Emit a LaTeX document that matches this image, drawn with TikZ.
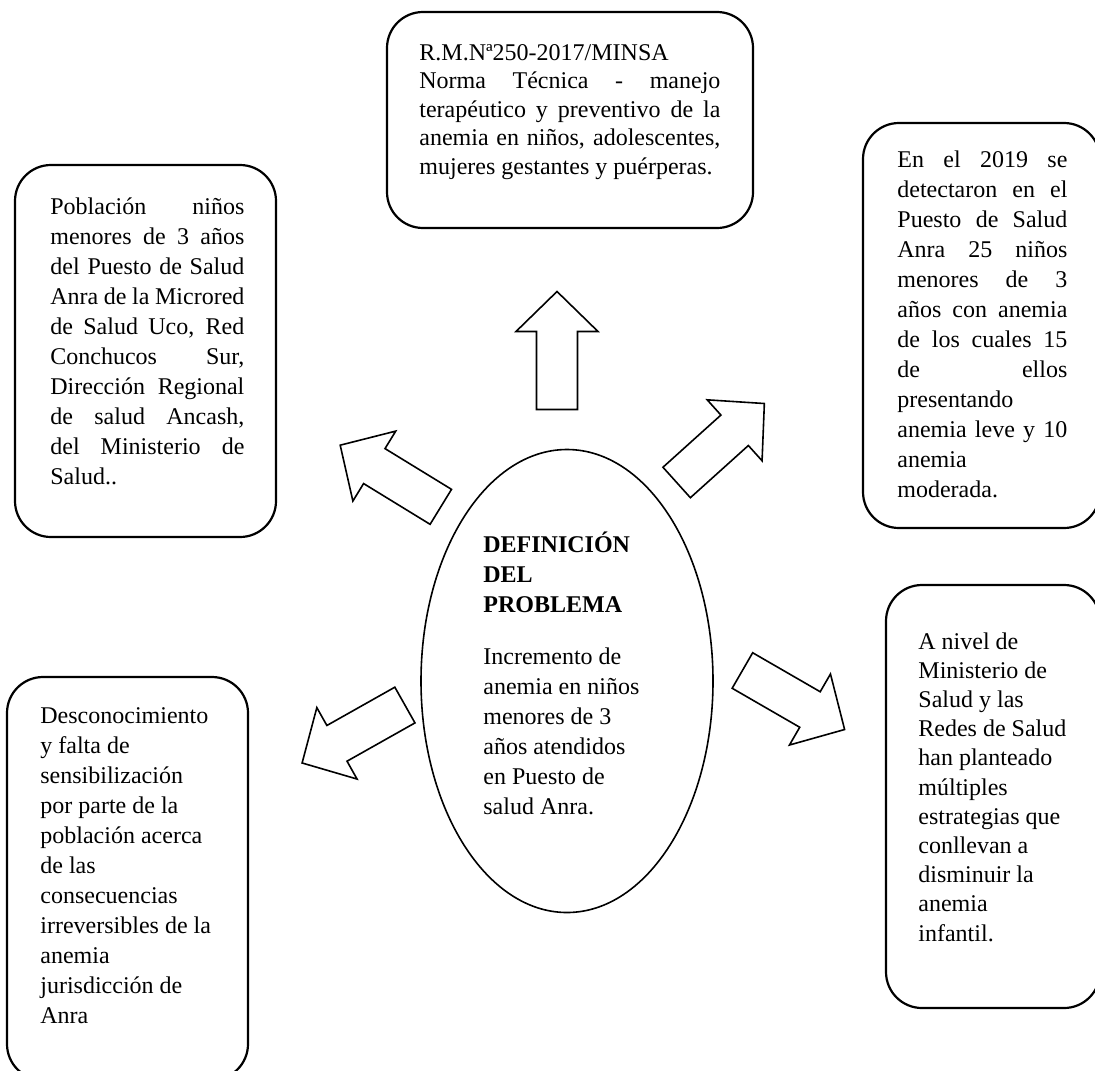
\documentclass[tikz,border=0pt]{standalone}
\usepackage{fontspec}
\setmainfont{Liberation Serif}
\usetikzlibrary{shapes.geometric}
\tolerance=10000
\hbadness=10000
\tikzset{
  panel/.style={line width=1.1pt,rounded corners=18pt},
  blurb/.style={anchor=north west,inner sep=0pt,align=justify,font=\fontsize{12}{15}\selectfont},
  plain/.style={anchor=north west,inner sep=0pt,align=left,font=\fontsize{12}{15}\selectfont},
  fat/.style={line width=0.8pt,line join=miter},
}
\newcommand\fatarrow[2]{\draw[fat,shift={#1},rotate=#2] (-59,-20.5) -- (19,-20.5) -- (19,-41) -- (59,0) -- (19,41) -- (19,20.5) -- (-59,20.5) -- cycle;}

\begin{document}
\begin{tikzpicture}[x=0.5pt,y=-0.5pt]
  \useasboundingbox (0,0) rectangle (1095,1070);

  \draw[panel] (387,12)  rectangle (753,228);
  \draw[panel] (15,165)  rectangle (276,537);
  \draw[panel] (863,123) rectangle (1100,528);
  \draw[panel] (7,677)   rectangle (248,1080);
  \draw[panel] (886,585) rectangle (1100,1008);

  \node[blurb,text width=150.5pt,font=\fontsize{12}{14.25}\selectfont] (norma) at (419,44)
    {R.M.Nª250-2017/MINSA\newline Norma Técnica - manejo\linebreak terapéutico y preventivo de la\linebreak anemia en niños, adolescentes,\linebreak mujeres gestantes y puérperas.};
  \node[blurb,text width=97pt] (pob) at (50,197)
    {Población niños\linebreak menores de 3 años\linebreak del Puesto de Salud\linebreak Anra de la Microred\linebreak de Salud Uco, Red\linebreak Conchucos Sur,\linebreak Dirección Regional\linebreak de salud Ancash,\linebreak del Ministerio de\linebreak Salud..};
  \node[blurb,text width=85pt] (casos) at (897,150)
    {En el 2019 se\linebreak detectaron en el\linebreak Puesto de Salud\linebreak Anra 25 niños\linebreak menores de 3\linebreak años con anemia\linebreak de los cuales 15\linebreak de ellos\linebreak presentando\newline anemia leve y 10\linebreak anemia\newline moderada.};
  \node[plain] (desc) at (40,707)
    {Desconocimiento\\ y falta de\\ sensibilización\\ por parte de la\\ población acerca\\ de las\\ consecuencias\\ irreversibles de la\\ anemia\\ jurisdicción de\\ Anra};
  \node[plain,font=\fontsize{12}{14.6}\selectfont] (minsa) at (918,632)
    {A nivel de\\ Ministerio de\\ Salud y las\\ Redes de Salud\\ han planteado\\ múltiples\\ estrategias que\\ conllevan a\\ disminuir la\\ anemia\\ infantil.};

  \node[draw,ellipse,line width=0.8pt,minimum width=146pt,minimum height=231.5pt,inner sep=0pt] (core) at (567,681) {};
  \node[plain] (title) at (483,531)
    {\textbf{DEFINICIÓN}\\ \textbf{DEL}\\ \textbf{PROBLEMA}\\[11pt] Incremento de\\ anemia en niños\\ menores de 3\\ años atendidos\\ en Puesto de\\ salud Anra.};

  \fatarrow{(557,350.5)}{90}
  \fatarrow{(720.5,443)}{42}
  \fatarrow{(390.5,476)}{148.5}
  \fatarrow{(793.5,700)}{-30}
  \fatarrow{(353.5,734)}{209.4}
\end{tikzpicture}
\end{document}
